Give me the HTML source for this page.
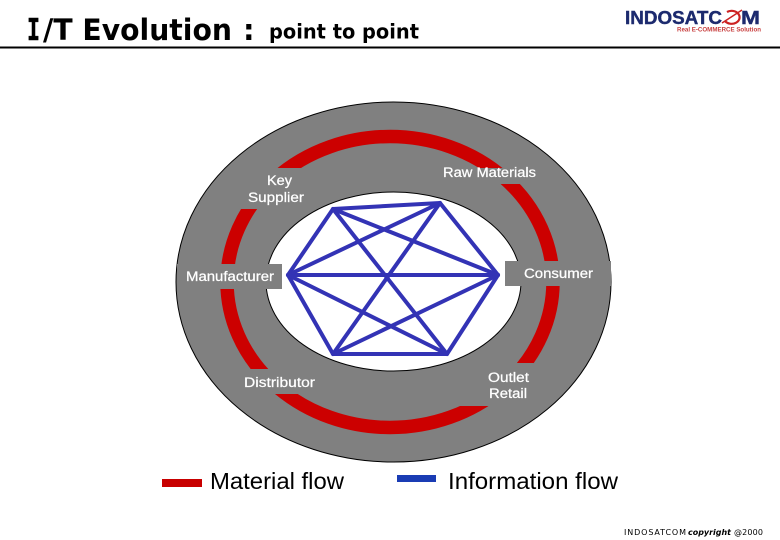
<!DOCTYPE html>
<html><head><meta charset="utf-8"><style>html,body{margin:0;padding:0;background:#fff}svg{display:block}</style></head>
<body>
<svg xmlns="http://www.w3.org/2000/svg" width="780" height="540" viewBox="0 0 780 540">
<defs>
<clipPath id="seg">
<rect x="0" y="0" width="390" height="168"/>
<rect x="0" y="209" width="390" height="55"/>
<rect x="0" y="288" width="390" height="81"/>
<rect x="0" y="394" width="390" height="146"/>
<rect x="390" y="0" width="390" height="168"/>
<rect x="390" y="184" width="390" height="77"/>
<rect x="390" y="286" width="390" height="77"/>
<rect x="390" y="406" width="390" height="134"/>
</clipPath>
</defs>
<rect width="780" height="540" fill="#fff"/>
<text x="27" y="40" font-family="'DejaVu Sans Mono',monospace" font-weight="bold" font-size="30" textLength="13" lengthAdjust="spacingAndGlyphs" stroke="#000" stroke-width="0.5">I</text>
<text x="43" y="40" font-family="'DejaVu Sans',sans-serif" font-weight="bold" font-size="29" textLength="189" lengthAdjust="spacingAndGlyphs">/T Evolution</text>
<text x="243" y="40" font-family="'DejaVu Sans',sans-serif" font-weight="bold" font-size="29">:</text>
<text x="269" y="38.5" font-family="'DejaVu Sans',sans-serif" font-weight="bold" font-size="20" textLength="150" lengthAdjust="spacingAndGlyphs">point to point</text>
<rect x="0" y="46.5" width="780" height="2" fill="#000"/>

<text x="625" y="24" font-family="'Liberation Sans',sans-serif" font-weight="bold" font-size="18.5" fill="#1c2a6e" stroke="#1c2a6e" stroke-width="0.4" textLength="97" lengthAdjust="spacingAndGlyphs">INDOSATC</text>
<path d="M725 21A8 6.5 0 1 0 727 12" fill="none" stroke="#cc2222" stroke-width="2.2"/>
<path d="M722 23L742 10" fill="none" stroke="#cc2222" stroke-width="1.5"/>
<text x="741" y="24" font-family="'Liberation Sans',sans-serif" font-weight="bold" font-size="18.5" fill="#1c2a6e" stroke="#1c2a6e" stroke-width="0.4" textLength="19" lengthAdjust="spacingAndGlyphs">M</text>
<text x="677" y="31.5" font-family="'Liberation Sans',sans-serif" font-weight="bold" font-size="6" fill="#c84040" textLength="84" lengthAdjust="spacingAndGlyphs">Real E-COMMERCE Solution</text>

<ellipse cx="393.5" cy="282" rx="217.5" ry="180" fill="#808080" stroke="#000" stroke-width="1"/>
<ellipse cx="393.5" cy="281.5" rx="127.5" ry="89.5" fill="#fff" stroke="#000" stroke-width="1"/>

<ellipse cx="390" cy="282" rx="163" ry="145.5" fill="none" stroke="#cc0000" stroke-width="13.5" clip-path="url(#seg)"/>

<rect x="177" y="264" width="105" height="25" fill="#808080"/>
<rect x="505" y="261" width="106" height="25" fill="#808080"/>

<g stroke="#3333b5" stroke-width="4" stroke-linecap="round" stroke-linejoin="round" fill="none">
<path d="M333 209L440 203L498 275L447 354L333 354L288 275Z"/>
<path d="M288 275H498"/>
<path d="M333 209L447 354"/>
<path d="M440 203L333 354"/>
<path d="M288 275L440 203"/>
<path d="M288 275L447 354"/>
<path d="M333 209L498 275"/>
<path d="M333 354L498 275"/>
</g>

<g font-family="'Liberation Sans',sans-serif" font-size="13.5" fill="#fff" stroke="#fff" stroke-width="0.25">
<text x="267" y="185" textLength="25" lengthAdjust="spacingAndGlyphs">Key</text>
<text x="248" y="202" textLength="56" lengthAdjust="spacingAndGlyphs">Supplier</text>
<text x="443" y="177" textLength="93" lengthAdjust="spacingAndGlyphs">Raw Materials</text>
<text x="186" y="281" textLength="88" lengthAdjust="spacingAndGlyphs">Manufacturer</text>
<text x="524" y="278" textLength="69" lengthAdjust="spacingAndGlyphs">Consumer</text>
<text x="244" y="387" textLength="71" lengthAdjust="spacingAndGlyphs">Distributor</text>
<text x="488" y="382" textLength="41" lengthAdjust="spacingAndGlyphs">Outlet</text>
<text x="489" y="398" textLength="38" lengthAdjust="spacingAndGlyphs">Retail</text>
</g>

<rect x="162" y="479" width="40" height="8" fill="#c80000"/>
<text x="210" y="489" font-family="'Liberation Sans',sans-serif" font-size="23" fill="#000" textLength="134" lengthAdjust="spacingAndGlyphs">Material flow</text>
<rect x="397" y="475" width="39" height="7" fill="#1a3cb4"/>
<text x="448" y="489" font-family="'Liberation Sans',sans-serif" font-size="23" fill="#000" textLength="170" lengthAdjust="spacingAndGlyphs">Information flow</text>

<text x="624" y="535" font-family="'DejaVu Sans',sans-serif" font-size="8" fill="#000" textLength="62" lengthAdjust="spacing">INDOSATCOM</text>
<text x="688" y="535" font-family="'DejaVu Sans',sans-serif" font-size="8" font-weight="bold" font-style="italic" fill="#000" textLength="43" lengthAdjust="spacingAndGlyphs">copyright</text>
<text x="734" y="535" font-family="'DejaVu Sans',sans-serif" font-size="8" fill="#000" textLength="29" lengthAdjust="spacing">@2000</text>
</svg>
</body></html>
